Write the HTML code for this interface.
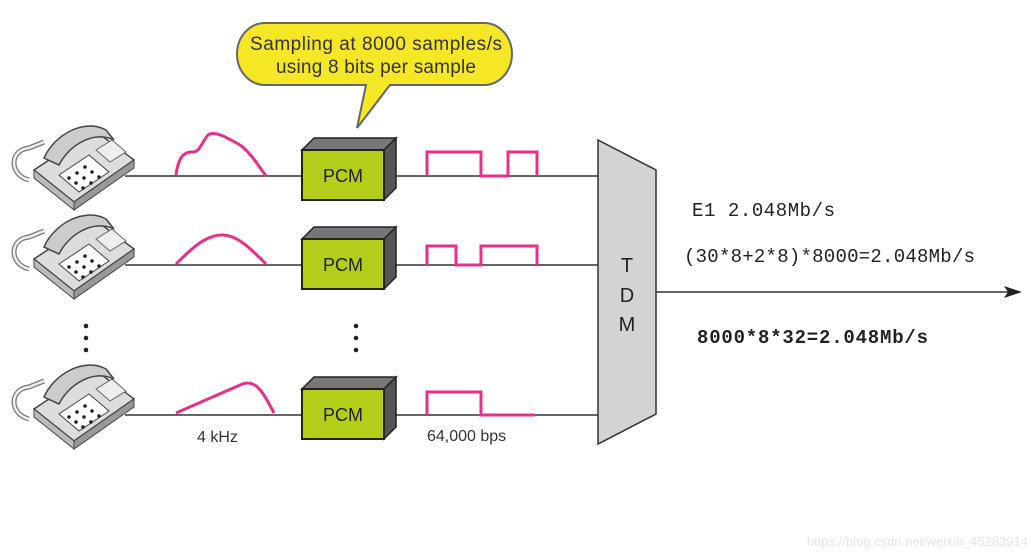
<!DOCTYPE html>
<html><head><style>body{margin:0;background:#fff}svg{display:block}</style></head>
<body>
<svg width="1035" height="560" viewBox="0 0 1035 560" xmlns="http://www.w3.org/2000/svg" font-family="Liberation Sans, sans-serif">
<defs>
<g id="phone">
  <path d="M-5,10 C-25,5 -25,-20 -5,-22 L10,-28" fill="none" stroke="#777" stroke-width="5"/>
  <path d="M-5,10 C-25,5 -25,-20 -5,-22 L10,-28" fill="none" stroke="#eee" stroke-width="2.5"/>
  <polygon points="0,0 60,-40 100,-10 40,32" fill="#ddd" stroke="#444" stroke-width="1.5"/>
  <polygon points="40,32 100,-10 100,-2 40,40" fill="#999" stroke="#444" stroke-width="1"/>
  <polygon points="0,0 40,32 40,40 0,8" fill="#bbb" stroke="#444" stroke-width="1"/>
  <path d="M10,-12 C20,-35 50,-52 72,-40 L80,-30 C60,-40 35,-25 25,-5 Z" fill="#ccc" stroke="#444" stroke-width="1.5"/>
  <polygon points="25,5 55,-15 75,2 45,22" fill="#fff" stroke="#444" stroke-width="1"/>
  <g fill="#222"><circle cx="35" cy="8" r="1.8"/><circle cx="43" cy="3" r="1.8"/><circle cx="51" cy="-3" r="1.8"/><circle cx="42" cy="13" r="1.8"/><circle cx="50" cy="8" r="1.8"/><circle cx="58" cy="2" r="1.8"/><circle cx="49" cy="18" r="1.8"/><circle cx="57" cy="13" r="1.8"/><circle cx="65" cy="7" r="1.8"/></g>
  <polygon points="62,-20 78,-30 92,-18 76,-8" fill="#eee" stroke="#666" stroke-width="1"/>
</g>
<g id="pcm">
  <polygon points="302,0 314,-12 396,-12 384,0" fill="#777" stroke="#222" stroke-width="1.5"/>
  <polygon points="384,0 396,-12 396,38 384,50" fill="#555" stroke="#222" stroke-width="1.5"/>
  <rect x="302" y="0" width="82" height="50" fill="#b5cc18" stroke="#222" stroke-width="2"/>
  <text x="343" y="32" font-size="18" text-anchor="middle" fill="#222">PCM</text>
</g>
</defs>
<g stroke="#333" stroke-width="1.5">
  <line x1="125" y1="176" x2="600" y2="176"/>
  <line x1="125" y1="265" x2="600" y2="265"/>
  <line x1="125" y1="415" x2="600" y2="415"/>
  <line x1="656" y1="292" x2="1010" y2="292"/>
</g>
<polygon points="1022,292 1004,286 1008,292 1004,298" fill="#222"/>
<use href="#phone" transform="translate(34,170)"/>
<use href="#phone" transform="translate(34,259)"/>
<use href="#phone" transform="translate(34,409)"/>
<use href="#pcm" transform="translate(0,150)"/>
<use href="#pcm" transform="translate(0,239)"/>
<use href="#pcm" transform="translate(0,389)"/>
<g fill="none" stroke="#e8308a" stroke-width="3">
  <path d="M176,175 C178,160 182,152 192,152 C200,152 200,145 208,135 C214,130 228,138 240,145 C250,152 258,165 266,176"/>
  <path d="M176,264 C190,250 205,235 222,235 C238,235 252,250 266,264"/>
  <path d="M176,413 L240,385 C255,378 262,390 274,413"/>
  <path d="M427,176 V152 H481 V176 H508 V152 H537 V176"/>
  <path d="M427,265 V246 H456 V265 H481 V246 H537 V265"/>
  <path d="M427,415 V392 H481 V415 H535"/>
</g>
<polygon points="598,140 656,170 656,414 598,444" fill="#d3d3d3" stroke="#333" stroke-width="1.5"/>
<text x="627" y="272" font-size="20" text-anchor="middle" fill="#222">T</text>
<text x="627" y="302" font-size="20" text-anchor="middle" fill="#222">D</text>
<text x="627" y="331" font-size="20" text-anchor="middle" fill="#222">M</text>
<path d="M265,23 H484 A28,31 0 0 1 484,85 H390 L357,128 L366,85 H265 A28,31 0 0 1 265,23 Z" fill="#f5e626" stroke="#666" stroke-width="2"/>
<text x="376" y="50" font-size="19" text-anchor="middle" fill="#333" textLength="252">Sampling at 8000 samples/s</text>
<text x="376" y="73" font-size="19" text-anchor="middle" fill="#333" textLength="200">using 8 bits per sample</text>
<g fill="#222"><circle cx="86" cy="326" r="2.3"/><circle cx="86" cy="338" r="2.3"/><circle cx="86" cy="350" r="2.3"/>
<circle cx="356" cy="326" r="2.3"/><circle cx="356" cy="338" r="2.3"/><circle cx="356" cy="350" r="2.3"/></g>
<text x="197" y="442" font-size="16" fill="#333">4 kHz</text>
<text x="427" y="441" font-size="16" fill="#333">64,000 bps</text>
<g font-family="Liberation Mono, monospace" font-size="19" fill="#222">
<text x="692" y="216" textLength="143">E1 2.048Mb/s</text>
<text x="684" y="262" textLength="291">(30*8+2*8)*8000=2.048Mb/s</text>
<text x="697" y="343" font-weight="bold" textLength="231">8000*8*32=2.048Mb/s</text>
</g>
<text x="1028" y="546" font-size="13" text-anchor="end" fill="#e4e4e4">https://blog.csdn.net/weixin_45283914</text>
</svg>
</body></html>
